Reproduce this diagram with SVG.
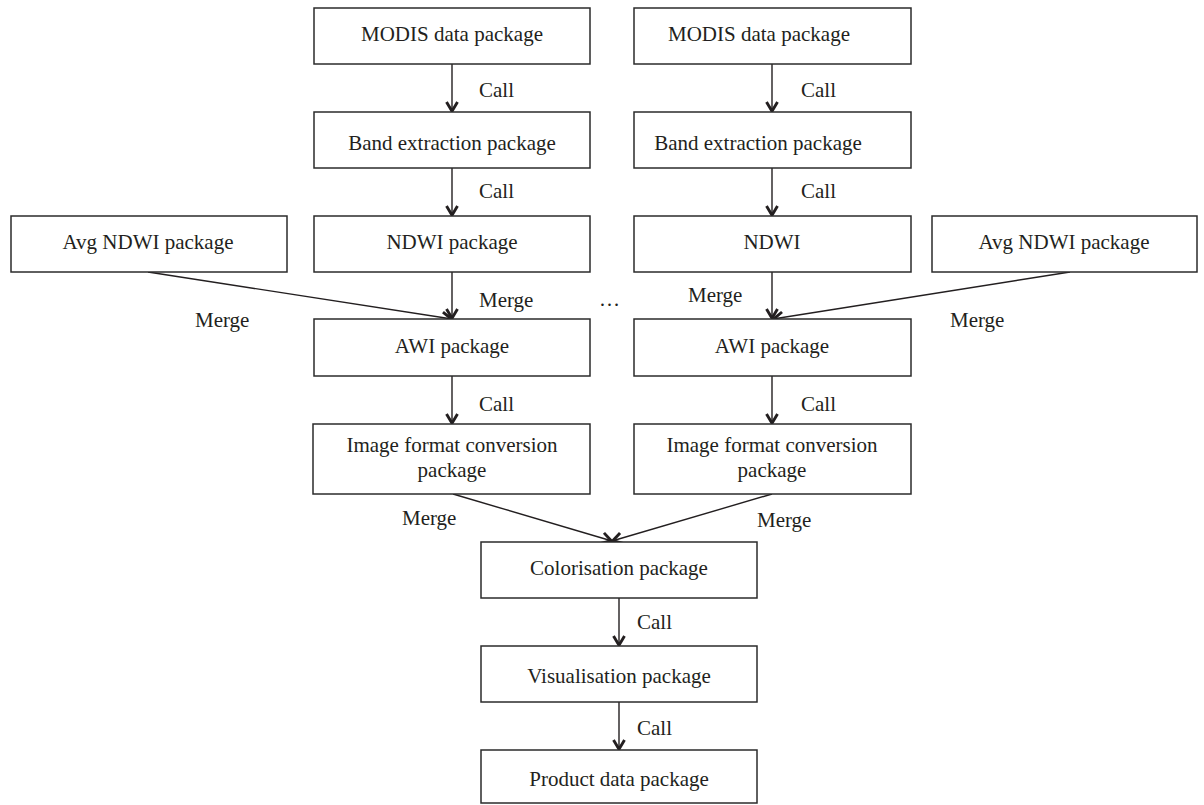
<svg xmlns="http://www.w3.org/2000/svg" width="1204" height="805" viewBox="0 0 1204 805">
<defs>
<style>
.box{fill:#fff;stroke:#2b2b2b;stroke-width:1.5}
.t{font-family:"Liberation Serif","Times New Roman",serif;font-size:21px;fill:#231f20}
.c{text-anchor:middle}
.ln{fill:none;stroke:#231f20;stroke-width:1.4;marker-end:url(#arr)}
</style>
<marker id="arr" markerUnits="userSpaceOnUse" viewBox="-14 -9 18 18" markerWidth="18" markerHeight="18" refX="0" refY="0" orient="auto" overflow="visible">
<path d="M-10,-5.5 L-0.8,0 L-10,5.5" fill="none" stroke="#231f20" stroke-width="2.9" stroke-linejoin="miter"/>
</marker>
</defs>
<rect width="1204" height="805" fill="#fff"/>
<g id="connectors">
<line class="ln" x1="452" y1="64" x2="452" y2="112"/>
<line class="ln" x1="452" y1="168" x2="452" y2="216"/>
<line class="ln" x1="452" y1="272" x2="452" y2="319"/>
<line class="ln" x1="148" y1="272" x2="452" y2="319"/>
<line class="ln" x1="452" y1="376" x2="452" y2="424"/>
<line class="ln" x1="772" y1="64" x2="772" y2="112"/>
<line class="ln" x1="772" y1="168" x2="772" y2="216"/>
<line class="ln" x1="772" y1="272" x2="772" y2="319"/>
<line class="ln" x1="1070" y1="272" x2="773" y2="319"/>
<line class="ln" x1="772" y1="376" x2="772" y2="424"/>
<line class="ln" x1="453" y1="494" x2="612" y2="541"/>
<line class="ln" x1="772" y1="494" x2="612" y2="541"/>
<line class="ln" x1="619" y1="598" x2="619" y2="646"/>
<line class="ln" x1="619" y1="702" x2="619" y2="750"/>
<text class="t" x="479" y="97">Call</text>
<text class="t" x="479" y="198">Call</text>
<text class="t" x="479" y="307">Merge</text>
<text class="t" x="195" y="327">Merge</text>
<text class="t" x="479" y="411">Call</text>
<text class="t" x="801" y="97">Call</text>
<text class="t" x="801" y="198">Call</text>
<text class="t" x="688" y="302">Merge</text>
<text class="t" x="950" y="327">Merge</text>
<text class="t" x="801" y="411">Call</text>
<text class="t" x="599" y="306">…</text>
<text class="t" x="402" y="525">Merge</text>
<text class="t" x="757" y="527">Merge</text>
<text class="t" x="637" y="629">Call</text>
<text class="t" x="637" y="735">Call</text>
</g>
<g id="modis-left"><rect class="box" x="314" y="8" width="276" height="56"/><text class="t c" x="452" y="41">MODIS data package</text></g>
<g id="band-left"><rect class="box" x="314" y="112" width="276" height="56"/><text class="t c" x="452" y="150">Band extraction package</text></g>
<g id="ndwi-left"><rect class="box" x="314" y="216" width="276" height="56"/><text class="t c" x="452" y="249">NDWI package</text></g>
<g id="avg-left"><rect class="box" x="11" y="216" width="276" height="56"/><text class="t c" x="148" y="249">Avg NDWI package</text></g>
<g id="awi-left"><rect class="box" x="314" y="319" width="276" height="57"/><text class="t c" x="452" y="353">AWI package</text></g>
<g id="img-left"><rect class="box" x="313" y="424" width="277" height="70"/><text class="t c" x="452" y="452">Image format conversion</text><text class="t c" x="452" y="477">package</text></g>
<g id="modis-right"><rect class="box" x="634" y="8" width="277" height="56"/><text class="t c" x="759" y="41">MODIS data package</text></g>
<g id="band-right"><rect class="box" x="634" y="112" width="277" height="56"/><text class="t c" x="758" y="150">Band extraction package</text></g>
<g id="ndwi-right"><rect class="box" x="634" y="216" width="277" height="56"/><text class="t c" x="772" y="249">NDWI</text></g>
<g id="avg-right"><rect class="box" x="932" y="216" width="265" height="56"/><text class="t c" x="1064" y="249">Avg NDWI package</text></g>
<g id="awi-right"><rect class="box" x="634" y="319" width="277" height="57"/><text class="t c" x="772" y="353">AWI package</text></g>
<g id="img-right"><rect class="box" x="634" y="424" width="277" height="70"/><text class="t c" x="772" y="452">Image format conversion</text><text class="t c" x="772" y="477">package</text></g>
<g id="colorisation"><rect class="box" x="481" y="542" width="276" height="56"/><text class="t c" x="619" y="575">Colorisation package</text></g>
<g id="visualisation"><rect class="box" x="481" y="646" width="276" height="56"/><text class="t c" x="619" y="683">Visualisation package</text></g>
<g id="product"><rect class="box" x="481" y="750" width="276" height="53"/><text class="t c" x="619" y="786">Product data package</text></g>
</svg>
